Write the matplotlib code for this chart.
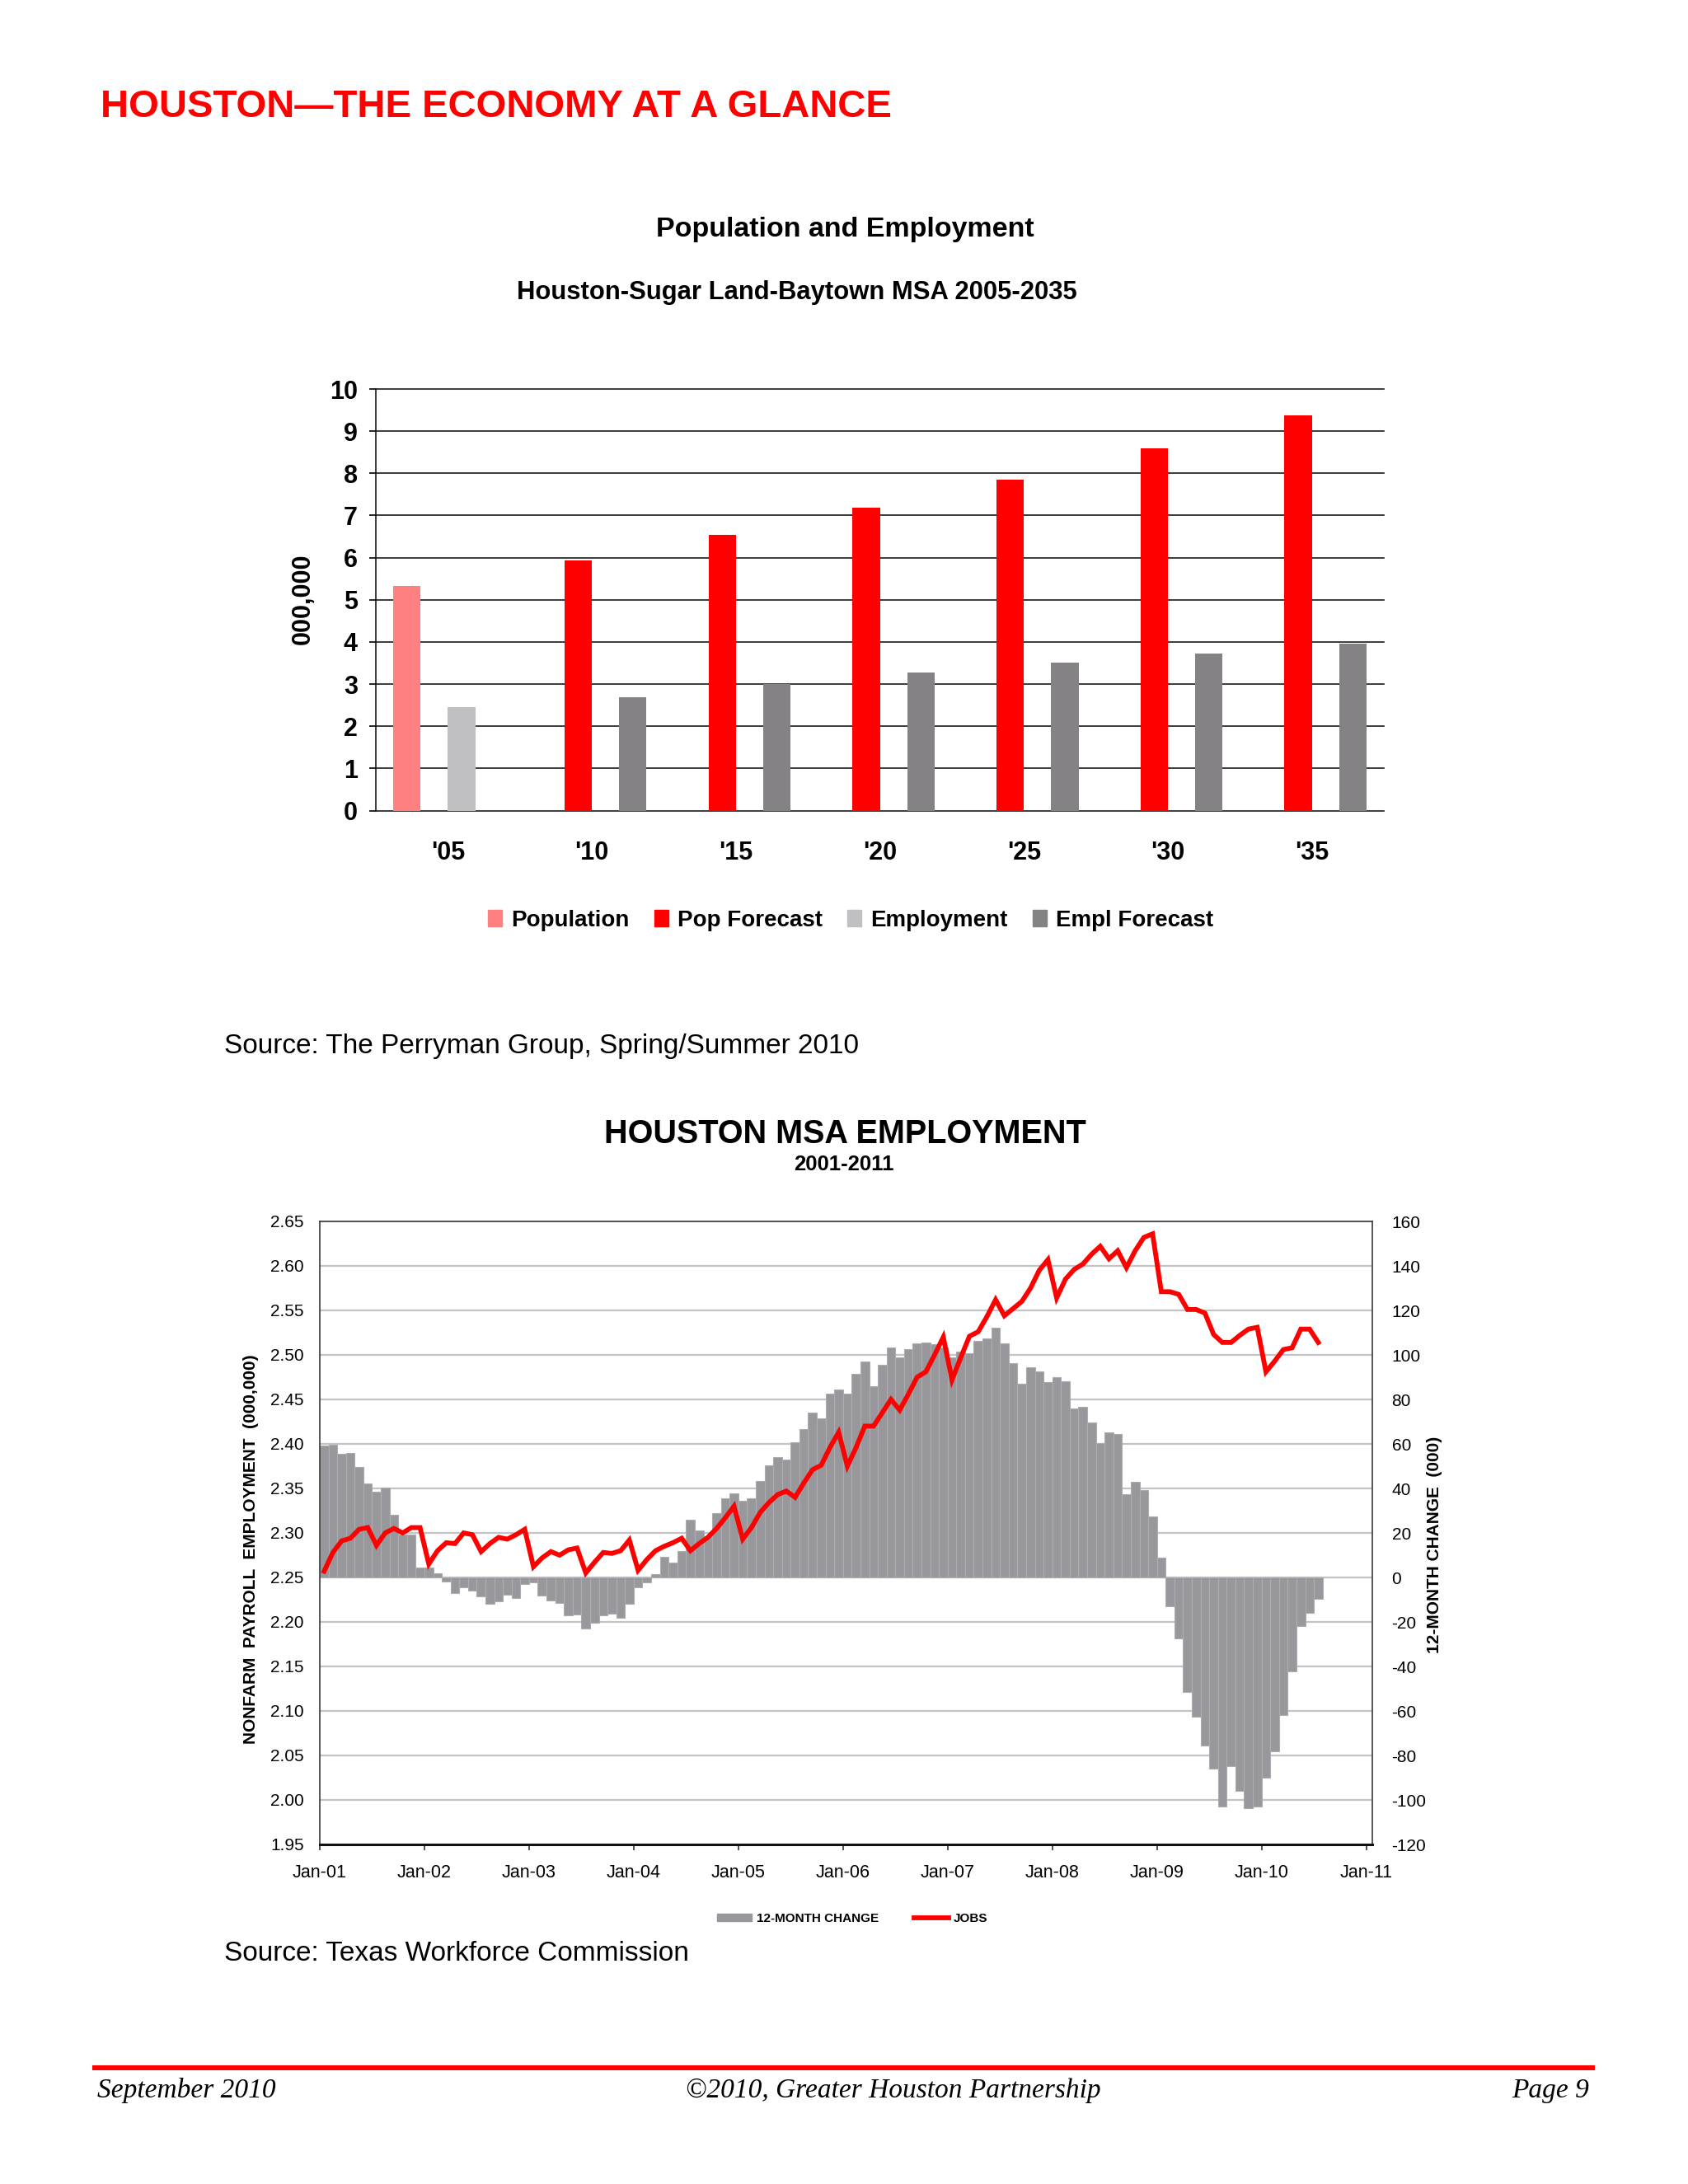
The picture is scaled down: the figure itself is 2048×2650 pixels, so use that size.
import numpy as np
import matplotlib
matplotlib.use("Agg")
import matplotlib.pyplot as plt
from matplotlib.patches import Patch
from matplotlib.lines import Line2D
from matplotlib.ticker import FormatStrFormatter

plt.rcParams['font.family'] = ['Liberation Sans', 'DejaVu Sans']
plt.rcParams['axes.unicode_minus'] = False

# ---------------- data: Population and Employment ----------------
years = ["'05", "'10", "'15", "'20", "'25", "'30", "'35"]
population    = [5.32, 0, 0, 0, 0, 0, 0]
pop_forecast  = [0, 5.93, 6.54, 7.18, 7.84, 8.60, 9.38]
employment    = [2.46, 0, 0, 0, 0, 0, 0]
empl_forecast = [0, 2.69, 3.00, 3.27, 3.51, 3.73, 3.96]
top_yticks = list(range(0, 11))

# ---------------- data: Houston MSA employment (Jan-01 .. Jul-10) ----------------
change_12m = [
    59.3, 59.6, 55.4, 55.9, 49.6, 42.4, 38.7, 40.2, 28.3, 19.3, 19.3, 4.3,
    4.3, 1.7, -1.9, -6.9, -4.3, -6.1, -8.7, -11.9, -10.6, -7.6, -9.1, -3.1,
    -2.4, -8.1, -10.4, -11.3, -17.2, -16.7, -22.8, -20.2, -17.2, -16.3, -18.0, -11.7,
    -4.3, -2.4, 1.5, 9.3, 6.7, 11.7, 26.1, 21.1, 18.5, 28.9, 35.7, 37.6,
    34.6, 35.7, 43.3, 50.4, 54.1, 53.0, 60.7, 66.5, 73.9, 71.5, 82.7, 84.6,
    82.7, 91.5, 97.0, 86.0, 95.7, 103.2, 99.0, 102.5, 105.1, 105.6, 104.7, 103.5,
    99.0, 101.3, 100.7, 106.2, 107.4, 112.4, 105.2, 96.3, 87.0, 94.4, 92.6, 87.7,
    90.1, 88.3, 75.9, 76.5, 69.8, 60.4, 65.1, 64.5, 37.3, 42.9, 39.2, 27.3,
    8.8, -12.9, -27.4, -51.5, -62.6, -75.6, -86.1, -103.0, -84.9, -96.0, -103.7, -103.0,
    -90.1, -78.1, -62.0, -42.2, -22.0, -15.9, -9.8,
]
jobs = [
    2.257, 2.278, 2.291, 2.294, 2.304, 2.306, 2.286, 2.300, 2.305, 2.300, 2.306, 2.306,
    2.265, 2.280, 2.289, 2.288, 2.300, 2.298, 2.279, 2.288, 2.295, 2.293, 2.298, 2.304,
    2.262, 2.272, 2.279, 2.275, 2.281, 2.283, 2.255, 2.267, 2.278, 2.277, 2.280, 2.292,
    2.258, 2.270, 2.280, 2.285, 2.289, 2.294, 2.280, 2.288, 2.295, 2.305, 2.317, 2.330,
    2.293, 2.306, 2.323, 2.334, 2.343, 2.347, 2.340, 2.356, 2.371, 2.376, 2.396, 2.413,
    2.375, 2.396, 2.420, 2.420, 2.435, 2.450, 2.438, 2.456, 2.475, 2.481, 2.500, 2.520,
    2.472, 2.497, 2.521, 2.526, 2.543, 2.562, 2.544, 2.552, 2.560, 2.575, 2.595, 2.607,
    2.564, 2.585, 2.596, 2.602, 2.613, 2.622, 2.608, 2.617, 2.598, 2.617, 2.632, 2.636,
    2.571, 2.571, 2.568, 2.551, 2.551, 2.547, 2.523, 2.514, 2.514, 2.522, 2.529, 2.531,
    2.481, 2.493, 2.506, 2.508, 2.529, 2.529, 2.514,
]
x_labels = ["Jan-01", "Jan-02", "Jan-03", "Jan-04", "Jan-05", "Jan-06",
            "Jan-07", "Jan-08", "Jan-09", "Jan-10", "Jan-11"]
left_ticks = [1.95, 2.00, 2.05, 2.10, 2.15, 2.20, 2.25, 2.30, 2.35, 2.40, 2.45, 2.50, 2.55, 2.60, 2.65]
right_ticks = list(range(-120, 161, 20))

W, H = 2048, 2650
fig = plt.figure(figsize=(W / 100, H / 100), dpi=100)
fig.patch.set_facecolor('white')

def fx(px):
    return px / W

def fy(py):
    return 1 - py / H

RED = '#FF0000'

# ---------------- page texts ----------------
fig.text(fx(122), fy(142), "HOUSTON\u2014THE ECONOMY AT A GLANCE", fontsize=34,
         fontweight='bold', color=RED, va='baseline', ha='left')
fig.text(fx(1025), fy(287), "Population and Employment", fontsize=24.5,
         fontweight='bold', ha='center', va='baseline')
fig.text(fx(967), fy(363), "Houston-Sugar Land-Baytown MSA 2005-2035", fontsize=22.3,
         fontweight='bold', ha='center', va='baseline')
fig.text(fx(272), fy(1278), "Source: The Perryman Group, Spring/Summer 2010", fontsize=24,
         ha='left', va='baseline')
fig.text(fx(1025), fy(1387), "HOUSTON MSA EMPLOYMENT", fontsize=28.5,
         fontweight='bold', ha='center', va='baseline')
fig.text(fx(1024), fy(1420), "2001-2011", fontsize=18.5,
         fontweight='bold', ha='center', va='baseline')
fig.text(fx(272), fy(2379), "Source: Texas Workforce Commission", fontsize=24,
         ha='left', va='baseline')

# footer
fig.add_artist(Line2D([fx(115), fx(1932)], [fy(2509), fy(2509)], color=RED, lw=4.3))
serif = ['Liberation Serif', 'DejaVu Serif']
fig.text(fx(118), fy(2545), "September 2010", fontsize=24, style='italic',
         family=serif, ha='left', va='baseline')
fig.text(fx(1084), fy(2545), "\u00a92010, Greater Houston Partnership", fontsize=24,
         style='italic', family=serif, ha='center', va='baseline')
fig.text(fx(1928), fy(2545), "Page 9", fontsize=24, style='italic',
         family=serif, ha='right', va='baseline')

# ---------------- top chart ----------------
L, R, T, B = 456, 1679, 472, 983.5
ax1 = fig.add_axes([fx(L), fy(B), fx(R - L), (B - T) / H])
x = np.arange(len(years))
bw = 0.19
series = [(population, '#FF8080', 'Population'),
          (pop_forecast, '#FF0000', 'Pop Forecast'),
          (employment, '#C0C0C2', 'Employment'),
          (empl_forecast, '#848285', 'Empl Forecast')]
for i, (vals, col, lab) in enumerate(series):
    ax1.bar(x + (i - 1.5) * bw, vals, width=bw, color=col, label=lab, zorder=3)
for yv in top_yticks:
    ax1.axhline(yv, color='#1a1a1a', lw=1.2, zorder=1, clip_on=False)
ax1.set_xlim(-0.5, len(years) - 0.5)
ax1.set_ylim(0, 10)
ax1.set_yticks(top_yticks)
ax1.set_xticks(x)
ax1.set_xticklabels(years)
for s in ['top', 'right', 'bottom']:
    ax1.spines[s].set_visible(False)
ax1.spines['left'].set_color('#1a1a1a')
ax1.spines['left'].set_linewidth(1.2)
ax1.tick_params(axis='y', length=6, width=1.2, pad=10, labelsize=22)
ax1.tick_params(axis='x', length=0, pad=26, labelsize=22)
for lbl in ax1.get_xticklabels() + ax1.get_yticklabels():
    lbl.set_fontweight('bold')
fig.text(fx(368), fy(727), "000,000", rotation=90, fontsize=22, fontweight='bold',
         ha='center', va='center')
h1 = [Patch(color=c, label=l) for _, c, l in series]
fig.legend(handles=h1, loc='center', bbox_to_anchor=(fx(1032), fy(1117)), ncol=4,
           frameon=False, prop={'weight': 'bold', 'size': 20}, handlelength=0.6,
           handleheight=0.75, handletextpad=0.4, columnspacing=1.1)

# ---------------- bottom chart ----------------
L2, R2, T2, B2 = 388, 1665, 1482, 2238
ax = fig.add_axes([fx(L2), fy(B2), fx(R2 - L2), (B2 - T2) / H])
ax2 = ax.twinx()

months = np.arange(len(change_12m))
ax.bar(months, change_12m, width=1.0, align='edge', color='#98979b',
       edgecolor='#adadb0', linewidth=0.8, zorder=2)
ax.set_ylim(-120, 160)
ax.set_yticks(right_ticks)
ax.set_xlim(0, 120.7)
ax.set_xticks(np.arange(0, 121, 12))
ax.set_xticklabels(x_labels)
ax.grid(axis='y', color='#c4c4c8', lw=1.6, zorder=0)
ax.set_axisbelow(True)
ax.tick_params(axis='x', direction='out', length=5, width=1.2, pad=12, labelsize=15.5,
               color='#333333')
for s in ['left', 'right', 'top']:
    ax.spines[s].set_color('#3a3a3a')
    ax.spines[s].set_linewidth(1.2)
ax.spines['bottom'].set_color('#111111')
ax.spines['bottom'].set_linewidth(2.2)

ax2.plot(months + 0.5, jobs, color=RED, lw=4.2, solid_joinstyle='miter', zorder=5)
ax2.set_ylim(1.95, 2.65)
ax2.set_yticks(left_ticks)
ax2.yaxis.set_major_formatter(FormatStrFormatter('%.2f'))
for s in ax2.spines.values():
    s.set_visible(False)

# bars' axis (12-month change) on the right, jobs axis on the left
ax.yaxis.tick_right()
ax.tick_params(axis='y', which='both', left=False, labelleft=False,
               right=True, labelright=True, length=0, pad=17, labelsize=15)
ax2.yaxis.tick_left()
ax2.tick_params(axis='y', which='both', right=False, labelright=False,
                left=True, labelleft=True, length=0, pad=14, labelsize=15)

fig.text(fx(305), fy(1880), "NONFARM  PAYROLL  EMPLOYMENT  (000,000)", rotation=90,
         fontsize=15, fontweight='bold', ha='center', va='center')
fig.text(fx(1741), fy(1874), "12-MONTH CHANGE  (000)", rotation=90,
         fontsize=15, fontweight='bold', ha='center', va='center')

h2 = [Patch(color='#98979b', label='12-MONTH CHANGE'),
      Line2D([0], [0], color=RED, lw=4.2, label='JOBS')]
fig.legend(handles=h2, loc='center', bbox_to_anchor=(fx(1034), fy(2328)), ncol=2,
           frameon=False, prop={'weight': 'bold', 'size': 11}, handlelength=2.8,
           handleheight=0.55, handletextpad=0.35, columnspacing=2.8)

fig.savefig("out.png", dpi=100)
